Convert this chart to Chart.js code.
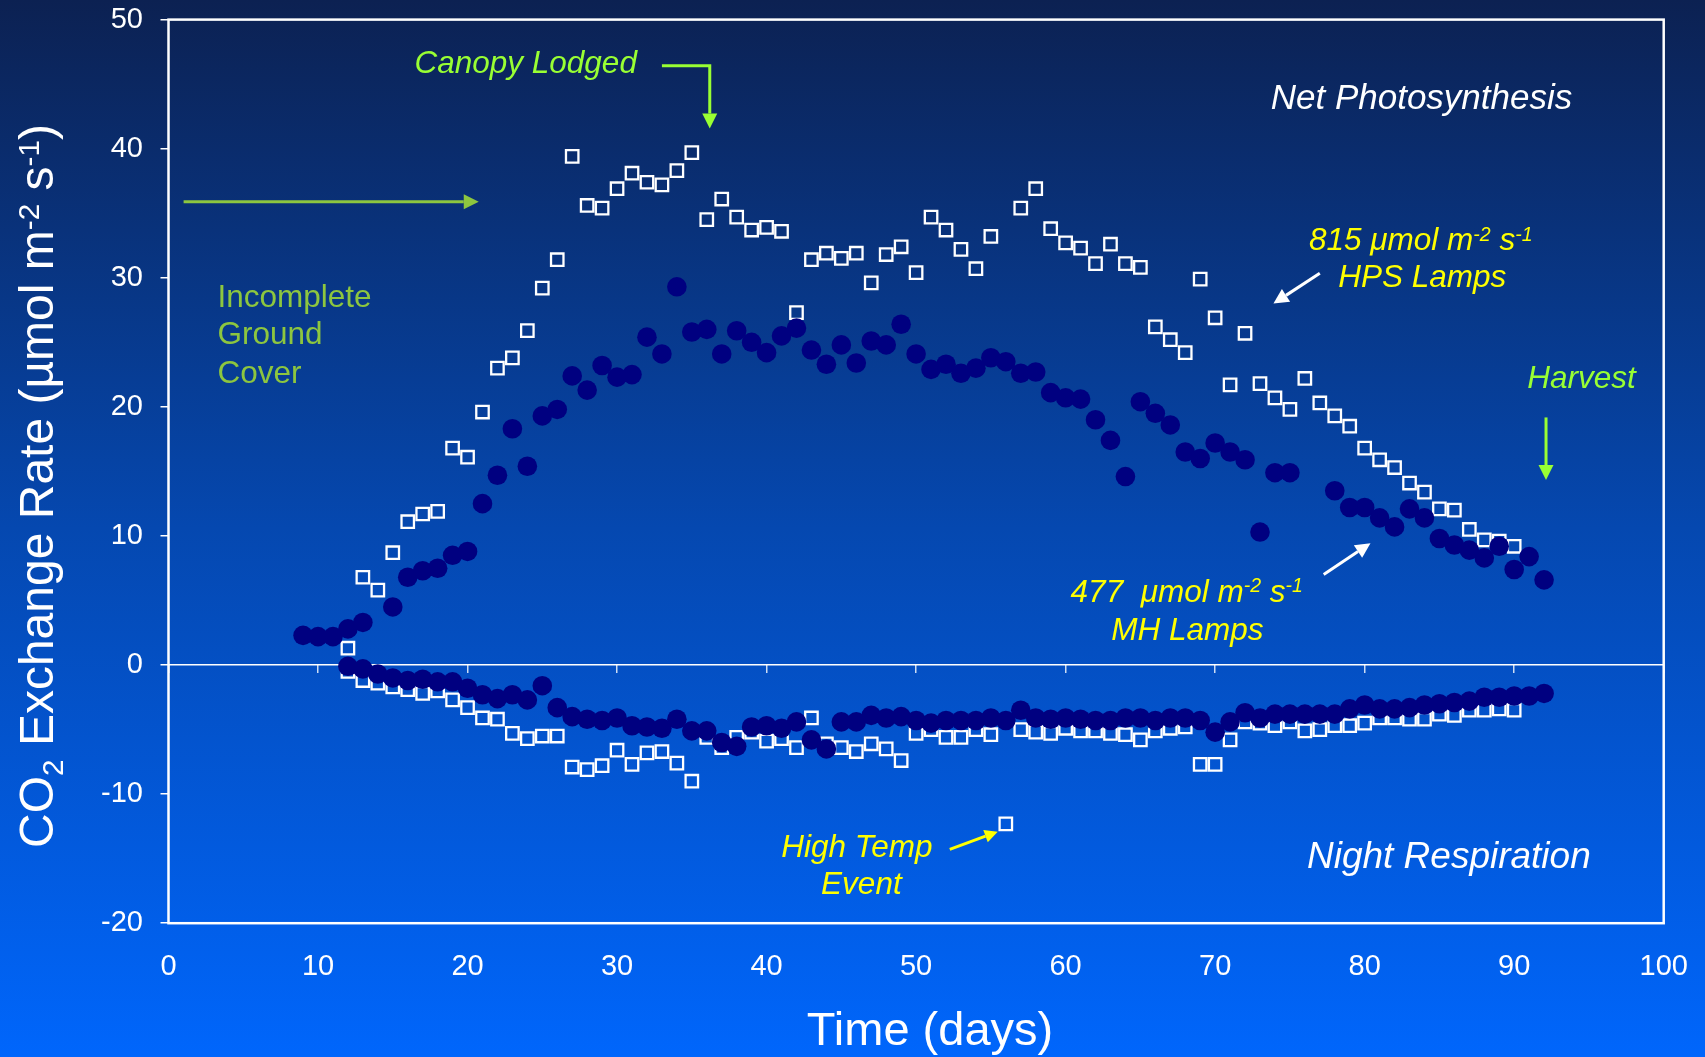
<!DOCTYPE html>
<html>
<head>
<meta charset="utf-8">
<title>CO2 Exchange Rate</title>
<script src="https://cdn.jsdelivr.net/npm/chart.js@4.4.1/dist/chart.umd.min.js"></script>
<style>
  html, body { margin: 0; padding: 0; overflow: hidden; }
  body {
    width: 1705px; height: 1057px;
    background: linear-gradient(to bottom, #0c2152 0%, #0548b0 50%, #0066fc 100%);
  }
  #wrap { position: relative; width: 1705px; height: 1057px; }
</style>
</head>
<body>
<div id="wrap"><canvas id="co2Chart"></canvas></div>
<script>
// --- data (days 9..92) ---
const days = [
  9,
  10, 11, 12, 13, 14, 15, 16, 17, 18, 19,
  20, 21, 22, 23, 24, 25, 26, 27, 28, 29,
  30, 31, 32, 33, 34, 35, 36, 37, 38, 39,
  40, 41, 42, 43, 44, 45, 46, 47, 48, 49,
  50, 51, 52, 53, 54, 55, 56, 57, 58, 59,
  60, 61, 62, 63, 64, 65, 66, 67, 68, 69,
  70, 71, 72, 73, 74, 75, 76, 77, 78, 79,
  80, 81, 82, 83, 84, 85, 86, 87, 88, 89,
  90, 91, 92,
];

// 477 umol MH lamps, net photosynthesis (filled circles)
const mhDay = [
  2.3,
  2.2, 2.2, 2.8, 3.3, null, 4.5, 6.8, 7.3, 7.5, 8.5,
  8.8, 12.5, 14.7, 18.3, 15.4, 19.3, 19.8, 22.4, 21.3, 23.2,
  22.3, 22.5, 25.4, 24.1, 29.3, 25.8, 26.0, 24.1, 25.9, 25.0,
  24.2, 25.5, 26.1, 24.4, 23.3, 24.8, 23.4, 25.1, 24.8, 26.4,
  24.1, 22.9, 23.3, 22.6, 23.0, 23.8, 23.5, 22.6, 22.7, 21.1,
  20.7, 20.6, 19.0, 17.4, 14.6, 20.4, 19.5, 18.6, 16.5, 16.0,
  17.2, 16.5, 15.9, 10.3, 14.9, 14.9, null, null, 13.5, 12.2,
  12.2, 11.4, 10.7, 12.1, 11.4, 9.8, 9.3, 8.9, 8.3, 9.2,
  7.4, 8.4, 6.6,
];

// 477 umol MH lamps, night respiration
const mhNight = [
  null,
  null, null, -0.1, -0.3, -0.7, -1.0, -1.2, -1.1, -1.3, -1.3,
  -1.8, -2.3, -2.6, -2.3, -2.7, -1.6, -3.3, -4.0, -4.2, -4.3,
  -4.1, -4.7, -4.8, -4.9, -4.2, -5.1, -5.1, -6.0, -6.3, -4.8,
  -4.7, -4.9, -4.4, -5.8, -6.5, -4.4, -4.4, -3.9, -4.1, -4.0,
  -4.3, -4.5, -4.3, -4.3, -4.3, -4.1, -4.3, -3.5, -4.1, -4.2,
  -4.1, -4.2, -4.3, -4.3, -4.1, -4.1, -4.3, -4.1, -4.1, -4.3,
  -5.2, -4.4, -3.7, -4.1, -3.8, -3.8, -3.8, -3.8, -3.8, -3.4,
  -3.1, -3.4, -3.4, -3.3, -3.1, -3.0, -2.9, -2.8, -2.5, -2.5,
  -2.4, -2.4, -2.2,
];

// 815 umol HPS lamps, net photosynthesis (open squares)
const hpsDay = [
  null,
  null, null, 1.3, 6.8, 5.8, 8.7, 11.1, 11.7, 11.9, 16.8,
  16.1, 19.6, 23.0, 23.8, 25.9, 29.2, 31.4, 39.4, 35.6, 35.4,
  36.9, 38.1, 37.4, 37.2, 38.3, 39.7, 34.5, 36.1, 34.7, 33.7,
  33.9, 33.6, 27.3, 31.4, 31.9, 31.5, 31.9, 29.6, 31.8, 32.4,
  30.4, 34.7, 33.7, 32.2, 30.7, 33.2, null, 35.4, 36.9, 33.8,
  32.7, 32.3, 31.1, 32.6, 31.1, 30.8, 26.2, 25.2, 24.2, 29.9,
  26.9, 21.7, 25.7, 21.8, 20.7, 19.8, 22.2, 20.3, 19.3, 18.5,
  16.8, 15.9, 15.3, 14.1, 13.4, 12.1, 12.0, 10.5, 9.7, 9.6,
  9.2, null, null,
];

// 815 umol HPS lamps, night respiration
const hpsNight = [
  null,
  null, null, -0.5, -1.2, -1.4, -1.7, -1.9, -2.2, -2.0, -2.7,
  -3.3, -4.1, -4.2, -5.3, -5.7, -5.5, -5.5, -7.9, -8.1, -7.8,
  -6.6, -7.7, -6.8, -6.7, -7.6, -9.0, -5.6, -6.4, -5.6, -5.2,
  -5.9, -5.7, -6.4, -4.1, -6.1, -6.4, -6.7, -6.1, -6.5, -7.4,
  -5.3, -5.0, -5.6, -5.6, -5.0, -5.4, -12.3, -5.0, -5.2, -5.3,
  -4.9, -5.1, -5.1, -5.3, -5.4, -5.8, -5.1, -4.9, -4.8, -7.7,
  -7.7, -5.8, -4.4, -4.5, -4.7, -4.4, -5.1, -5.0, -4.7, -4.7,
  -4.5, -4.1, -4.1, -4.2, -4.2, -3.8, -3.9, -3.5, -3.5, -3.4,
  -3.5, null, null,
];

const xTicks = [0, 10, 20, 30, 40, 50, 60, 70, 80, 90, 100];
const yTicks = [-20, -10, 0, 10, 20, 30, 40, 50];

const FONT = "'Liberation Sans', Arial, Helvetica, sans-serif";
const LIME = '#99ff33';
const LEAF = '#8dc63f';
const YELLOW = '#ffff00';
const NAVY = '#000080';

// annotation text, anchored in data units
const notes = [
  { parts: [['Canopy Lodged']], x: 16.45, y: 45.84, align: 'left', size: 31.5, italic: true, color: LIME },
  { parts: [['Incomplete']], x: 3.27, y: 27.76, align: 'left', size: 31.5, italic: false, color: LEAF },
  { parts: [['Ground']], x: 3.27, y: 24.86, align: 'left', size: 31.5, italic: false, color: LEAF },
  { parts: [['Cover']], x: 3.27, y: 21.87, align: 'left', size: 31.5, italic: false, color: LEAF },
  { parts: [['Net Photosynthesis']], x: 83.8, y: 43.05, align: 'center', size: 35, italic: true, color: '#ffffff' },
  { parts: [['815 \u03bcmol m'], ['-2', 'sup'], [' s'], ['-1', 'sup']], x: 83.75, y: 32.15, align: 'center', size: 31.5, italic: true, color: YELLOW },
  { parts: [['HPS Lamps']], x: 83.85, y: 29.3, align: 'center', size: 31.5, italic: true, color: YELLOW },
  { parts: [['477  \u03bcmol m'], ['-2', 'sup'], [' s'], ['-1', 'sup']], x: 68.1, y: 4.9, align: 'center', size: 31.5, italic: true, color: YELLOW },
  { parts: [['MH Lamps']], x: 68.15, y: 1.93, align: 'center', size: 31.5, italic: true, color: YELLOW },
  { parts: [['Harvest']], x: 94.5, y: 21.48, align: 'center', size: 31.5, italic: true, color: LIME },
  { parts: [['High Temp']], x: 46.04, y: -14.9, align: 'center', size: 31.5, italic: true, color: YELLOW },
  { parts: [['Event']], x: 46.34, y: -17.75, align: 'center', size: 31.5, italic: true, color: YELLOW },
  { parts: [['Night Respiration']], x: 85.63, y: -15.75, align: 'center', size: 37, italic: true, color: '#ffffff' },
];

// annotation arrows (polyline, last point is the tip)
const arrows = [
  { pts: [[1.01, 35.89], [20.75, 35.89]], color: LEAF, head: 15 },
  { pts: [[33.0, 46.43], [36.2, 46.43], [36.2, 41.57]], color: LIME, head: 15 },
  { pts: [[77.0, 30.35], [73.9, 28.0]], color: '#ffffff', head: 15 },
  { pts: [[77.26, 7.02], [80.39, 9.43]], color: '#ffffff', head: 15 },
  { pts: [[92.13, 19.18], [92.13, 14.33]], color: LIME, head: 15 },
  { pts: [[52.25, -14.28], [55.46, -12.91]], color: YELLOW, head: 13 },
];

function fontOf(size, italic) {
  return (italic ? 'italic ' : '') + size + 'px ' + FONT;
}

// draws text with superscript / subscript pieces
function drawRich(ctx, parts, x, y, size, italic, align) {
  const segs = parts.map(([text, mode]) => {
    const s = mode ? size * 0.62 : size;
    ctx.font = fontOf(s, italic);
    return { text, mode, s, w: ctx.measureText(text).width };
  });
  const total = segs.reduce((a, g) => a + g.w, 0);
  let cx = align === 'center' ? x - total / 2 : x;
  ctx.textAlign = 'left';
  ctx.textBaseline = 'alphabetic';
  segs.forEach(g => {
    ctx.font = fontOf(g.s, italic);
    let dy = 0;
    if (g.mode === 'sup') dy = -size * 0.3;
    if (g.mode === 'sub') dy = size * 0.2;
    ctx.fillText(g.text, cx, y + dy);
    cx += g.w;
  });
}

function drawArrow(ctx, pts, color, head) {
  const n = pts.length;
  const [tx, ty] = pts[n - 1];
  const [px, py] = pts[n - 2];
  const ang = Math.atan2(ty - py, tx - px);
  const bx = tx - Math.cos(ang) * head;
  const by = ty - Math.sin(ang) * head;
  ctx.strokeStyle = color;
  ctx.fillStyle = color;
  ctx.lineWidth = 3;
  ctx.lineJoin = 'miter';
  ctx.beginPath();
  ctx.moveTo(pts[0][0], pts[0][1]);
  for (let i = 1; i < n - 1; i++) ctx.lineTo(pts[i][0], pts[i][1]);
  ctx.lineTo(bx, by);
  ctx.stroke();
  const hw = head * 0.5;
  ctx.beginPath();
  ctx.moveTo(tx, ty);
  ctx.lineTo(bx + Math.sin(ang) * hw, by - Math.cos(ang) * hw);
  ctx.lineTo(bx - Math.sin(ang) * hw, by + Math.cos(ang) * hw);
  ctx.closePath();
  ctx.fill();
}

const decorPlugin = {
  id: 'decor',
  afterDraw(chart) {
    const { ctx, chartArea: a, scales } = chart;
    const sx = v => scales.x.getPixelForValue(v);
    const sy = v => scales.y.getPixelForValue(v);
    ctx.save();

    // plot frame
    ctx.strokeStyle = '#ffffff';
    ctx.lineWidth = 2.5;
    ctx.strokeRect(a.left, a.top, a.right - a.left, a.bottom - a.top);

    // arrows
    arrows.forEach(ar => {
      drawArrow(ctx, ar.pts.map(([x, y]) => [sx(x), sy(y)]), ar.color, ar.head);
    });

    // annotation text
    notes.forEach(n => {
      ctx.fillStyle = n.color;
      drawRich(ctx, n.parts, sx(n.x), sy(n.y), n.size, n.italic, n.align);
    });

    // axis titles
    ctx.fillStyle = '#ffffff';
    drawRich(ctx, [['Time (days)']], 930, 1045, 47, false, 'center');

    ctx.translate(53, 486);
    ctx.rotate(-Math.PI / 2);
    drawRich(ctx, [['CO'], ['2', 'sub'], [' Exchange Rate (\u00b5mol m'], ['-2', 'sup'], [' s'], ['-1', 'sup'], [')']],
      0, 0, 48, false, 'center');
    ctx.restore();
  },
};

const toPoints = vals => days
  .map((d, i) => ({ x: d, y: vals[i] }))
  .filter(p => p.y !== null);

const circleStyle = {
  pointStyle: 'circle',
  pointRadius: 9.8,
  pointBackgroundColor: NAVY,
  pointBorderColor: NAVY,
  pointBorderWidth: 0,
};
const squareStyle = {
  pointStyle: 'rect',
  pointRadius: 8.8,
  pointBackgroundColor: 'rgba(0,0,0,0)',
  pointBorderColor: '#ffffff',
  pointBorderWidth: 2.3,
};

new Chart(document.getElementById('co2Chart'), {
  type: 'scatter',
  data: {
    datasets: [
      { label: '477 MH day', data: toPoints(mhDay), ...circleStyle },
      { label: '477 MH night', data: toPoints(mhNight), ...circleStyle },
      { label: '815 HPS day', data: toPoints(hpsDay), ...squareStyle },
      { label: '815 HPS night', data: toPoints(hpsNight), ...squareStyle },
    ],
  },
  options: {
    responsive: true,
    maintainAspectRatio: false,
    animation: false,
    events: [],
    layout: { padding: { top: 19.6, right: 41.3, bottom: 0, left: 0 } },
    plugins: {
      legend: { display: false },
      tooltip: { enabled: false },
    },
    scales: {
      x: {
        type: 'linear',
        position: 'bottom',
        min: 0,
        max: 100,
        afterBuildTicks: s => { s.ticks = xTicks.map(v => ({ value: v })); },
        afterFit: s => {
          s.height = 133.8;
          s.paddingLeft = 0;
          s.paddingRight = 0;
        },
        grid: { display: false, drawTicks: false },
        border: { display: false },
        ticks: { color: '#ffffff', font: { family: FONT, size: 29 }, padding: 26, maxRotation: 0 },
      },
      x2: {
        type: 'linear',
        position: { y: 0 },
        display: true,
        min: 0,
        max: 100,
        afterBuildTicks: s => { s.ticks = xTicks.map(v => ({ value: v })); },
        afterFit: s => {
          s.paddingLeft = 0;
          s.paddingRight = 0;
        },
        grid: { drawOnChartArea: false, drawTicks: true, tickLength: 8, tickColor: 'rgba(255,255,255,0.8)', lineWidth: 1.5 },
        border: { display: false },
        ticks: { display: false },
      },
      y: {
        type: 'linear',
        position: 'left',
        min: -20,
        max: 50,
        afterBuildTicks: s => { s.ticks = yTicks.map(v => ({ value: v })); },
        afterFit: s => {
          s.width = 168.5;
          s.paddingTop = 0;
          s.paddingBottom = 0;
        },
        grid: {
          drawOnChartArea: true,
          drawTicks: true,
          tickLength: 8,
          lineWidth: 1.5,
          color: c => (c.tick && c.tick.value === 0 ? '#ffffff' : 'rgba(0,0,0,0)'),
          tickColor: '#ffffff',
        },
        border: { display: false },
        ticks: { color: '#ffffff', font: { family: FONT, size: 29 }, padding: 17.5 },
      },
    },
  },
  plugins: [decorPlugin],
});
</script>
</body>
</html>
